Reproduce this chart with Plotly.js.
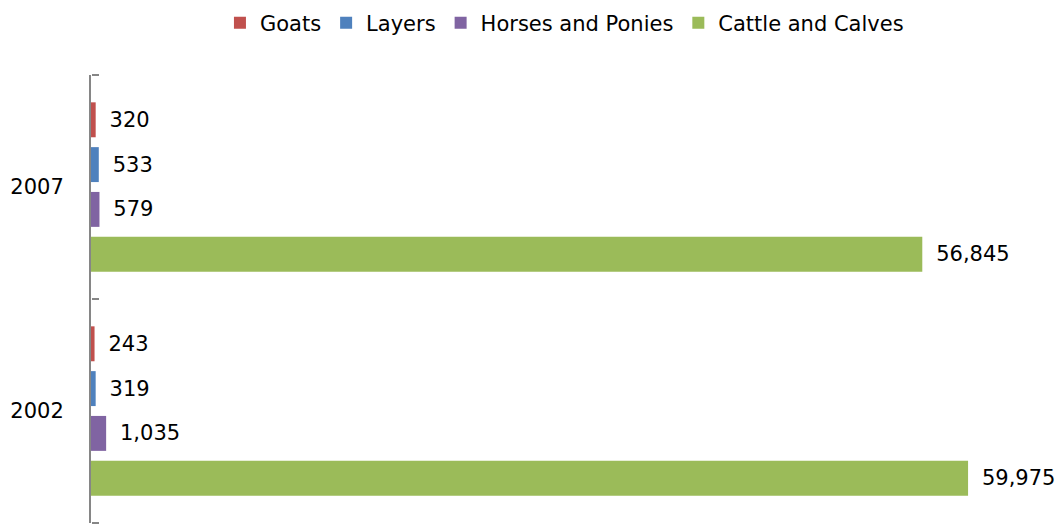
<!DOCTYPE html>
<html>
<head>
<meta charset="utf-8">
<script src="https://cdn.plot.ly/plotly-3.0.1.min.js"></script>
<style>html,body{margin:0;padding:0;background:#fff;}#chart{width:1061px;height:525px;}</style>
</head>
<body>
<div id="chart"></div>
<script>
const years = ['2002', '2007'];
const goats = [243, 320];
const layers = [319, 533];
const horses = [1035, 579];
const cattle = [59975, 56845];
const seriesNames = ['Goats', 'Layers', 'Horses and Ponies', 'Cattle and Calves'];
const seriesColors = ['#C0504D', '#4F81BD', '#8064A2', '#9BBB59'];
const boundaryTicks = [-0.5, 0.5, 1.5];

const FONT = 'DejaVu Sans, sans-serif';
function mk(vals, idx) {
  return {
    type: 'bar', orientation: 'h',
    y: years, x: vals,
    name: seriesNames[idx],
    legendrank: idx + 1,
    marker: {color: seriesColors[idx]},
    texttemplate: '\u00a0\u2009%{x:,}',
    textposition: 'outside',
    cliponaxis: false,
    constraintext: 'none',
    outsidetextfont: {family: FONT, size: 21, color: '#000'},
    hoverinfo: 'skip'
  };
}
// order bottom-to-top inside each group: Cattle, Horses, Layers, Goats
const data = [mk(cattle, 3), mk(horses, 2), mk(layers, 1), mk(goats, 0)];
// empty helper trace so the boundary-tick axis gets drawn
data.push({type: 'scatter', mode: 'none', x: [], y: [], yaxis: 'y2', showlegend: false, hoverinfo: 'skip'});

const layout = {
  width: 1061, height: 525,
  margin: {l: 91, r: 0, t: 75, b: 2},
  paper_bgcolor: '#fff', plot_bgcolor: '#fff',
  font: {family: FONT, size: 21, color: '#000'},
  separators: '.,',
  barmode: 'group',
  bargap: 0.2, bargroupgap: 0.22,
  showlegend: true,
  legend: {
    orientation: 'h', xref: 'container', yref: 'container',
    x: 0.532, xanchor: 'center', y: 0.995, yanchor: 'top',
    font: {family: FONT, size: 21, color: '#000'},
    itemwidth: 30, traceorder: 'normal'
  },
  xaxis: {
    range: [0, 66330], showgrid: false, zeroline: false,
    showline: false, showticklabels: false, ticks: ''
  },
  yaxis: {
    type: 'category', categoryorder: 'array', categoryarray: years,
    range: [-0.5, 1.5],
    showgrid: false, zeroline: false,
    showline: true, linecolor: '#868686', linewidth: 2,
    ticks: '',
    ticklabelstandoff: 21,
    tickfont: {family: FONT, size: 21, color: '#000'}
  },
  yaxis2: {
    overlaying: 'y', side: 'right', anchor: 'free', position: 0,
    range: [-0.5, 1.5], type: 'linear', autorange: false,
    tickmode: 'array', tickvals: boundaryTicks,
    showgrid: false, zeroline: false, showline: false,
    showticklabels: false,
    ticks: 'outside', ticklen: 7, tickcolor: '#868686', tickwidth: 2
  }
};
Plotly.newPlot('chart', data, layout, {displayModeBar: false, staticPlot: true});
</script>
</body>
</html>
